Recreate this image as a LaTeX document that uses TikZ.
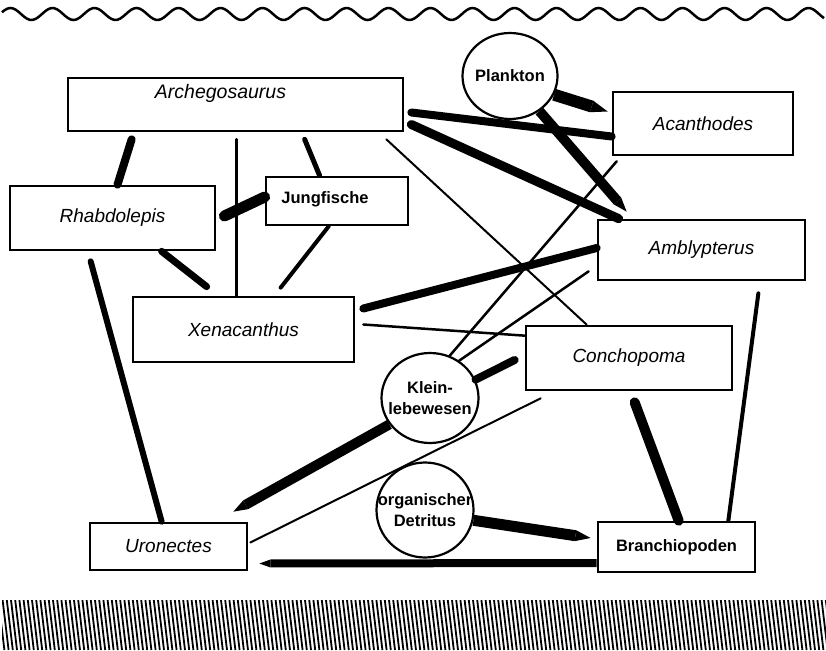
\documentclass[tikz,border=0pt]{standalone}
\usepackage{fontspec}
\setmainfont{Liberation Sans}
\usetikzlibrary{shapes.geometric,arrows.meta,calc}

\begin{document}
\begin{tikzpicture}[
    x=1pt, y=-1pt,
    box/.style={rectangle, draw, line width=2.7pt, fill=white, inner sep=0pt, font=\itshape\fontsize{19}{22}\selectfont},
    boxtext/.style={font=\itshape\fontsize{19.5}{22}\selectfont, inner sep=0pt},
    boldbox/.style={box, font=\bfseries\fontsize{16.5}{22}\selectfont},
    boldtext/.style={font=\bfseries\fontsize{16.5}{22}\selectfont, inner sep=0pt},
    food/.style={ellipse, draw, line width=2.2pt, fill=white, inner sep=0pt},
    foodtext/.style={font=\bfseries\fontsize{16.5}{21}\selectfont, align=center, inner sep=0pt},
    bar/.style={line width=#1, line cap=round},
    tipbar/.style={line width=#1, -{Triangle[length=0pt 1.4, width=0pt 1, line width=0pt]}}
]
    \useasboundingbox (0,0) rectangle (826,650);

    \draw[line width=2.5pt] plot[domain=2:824, samples=300, smooth] (\x, {14 - 6*sin(\x/42*360)});
    \begin{scope}
        \clip (2,600) rectangle (826,650);
        \foreach \x in {-10,-5.8,...,830}
            \draw[line width=1.8pt] (\x,600) -- (\x+6,650);
    \end{scope}

    \node[box, minimum width=335pt, minimum height=53pt, label={[boxtext, xshift=-15pt, yshift=11pt]center:Archegosaurus}] (arch) at (235.5,104.5) {};
    \node[box, minimum width=180pt, minimum height=63pt] (acan) at (703,123.5) {Acanthodes};
    \node[box, minimum width=205pt, minimum height=64pt] (rhab) at (112.5,218) {Rhabdolepis};
    \node[boldbox, minimum width=142pt, minimum height=48pt, label={[boldtext, xshift=-12pt, yshift=2pt]center:Jungfische}] (jung) at (337,201) {};
    \node[box, minimum width=221pt, minimum height=65pt] (xen) at (243.5,329.5) {Xenacanthus};
    \node[box, minimum width=207pt, minimum height=60pt] (ambly) at (701.5,250) {Amblypterus};
    \node[box, minimum width=206pt, minimum height=64pt] (concho) at (629,358) {Conchopoma};
    \node[box, minimum width=157pt, minimum height=47pt] (uron) at (168.5,546.5) {Uronectes};
    \node[boldbox, minimum width=157pt, minimum height=50pt] (branch) at (676.5,547) {Branchiopoden};
    \node[food, minimum width=95pt, minimum height=86pt, label={[foodtext]center:Plankton}] (plank) at (510,76) {};
    \node[food, minimum width=97pt, minimum height=90pt, label={[foodtext]center:{Klein-\\lebewesen}}] (klein) at (430,398) {};
    \node[food, minimum width=97pt, minimum height=95pt, label={[foodtext]center:{organischer\\Detritus}}] (detr) at (425,510) {};

    \draw[bar=8pt] ($(rhab.north)+(5,0)$) -- ($(arch.south west)+(65,7)$);
    \draw[bar=3pt] ($(xen.north west)+(105,0)$) -- ($(arch.south west)+(170,7)$);
    \draw[bar=5pt] ($(jung.north west)+(55,0)$) -- ($(arch.south west)+(238,7)$);
    \draw[bar=11pt] ($(jung.west)+(0,-4)$) -- ($(rhab.east)+(8,-2)$);
    \draw[bar=4pt] ($(jung.south west)+(64,0)$) -- ($(xen.north west)+(149,-8)$);
    \draw[bar=7pt] ($(rhab.south west)+(153,0)$) -- ($(xen.north west)+(75,-9)$);
    \draw[bar=6pt] ($(uron.north west)+(73,0)$) -- ($(rhab.south west)+(82,10)$);
    \draw[bar=8pt] ($(acan.west)+(0,13)$) -- ($(arch.east)+(7,8)$);
    \draw[bar=9pt] ($(ambly.north west)+(22,0)$) -- ($(arch.east)+(7,20)$);
    \draw[tipbar=12pt] (plank.-23) -- ($(acan.west)+(-4,-12)$);
    \draw[tipbar=10pt] (plank.-50) -- ($(ambly.north west)+(30,-7)$);
    \draw[bar=2pt] ($(concho.north west)+(62,0)$) -- ($(arch.south east)+(-18,7)$);
    \draw[bar=2.5pt] ($(acan.south west)+(5,5)$) -- (klein.65);
    \draw[bar=2.5pt] ($(ambly.south west)+(-8,-10)$) -- (klein.52);
    \draw[bar=8pt] ($(ambly.west)+(0,-2)$) -- ($(xen.east)+(8,-21)$);
    \draw[bar=2.5pt] ($(concho.north west)+(0,11)$) -- ($(xen.east)+(8,-5)$);
    \draw[bar=8pt] (klein.22) -- ($(concho.west)+(-10,2)$);
    \draw[tipbar=10pt] (klein.-147) -- ($(uron.north east)+(-15,-10)$);
    \draw[bar=2pt] ($(concho.south west)+(16,7)$) -- ($(uron.east)+(2,-4)$);
    \draw[tipbar=11pt] (detr.-12) -- ($(branch.west)+(-6,-9)$);
    \draw[tipbar=8pt] ($(branch.west)+(0,16)$) -- ($(uron.east)+(11,17)$);
    \draw[bar=10pt] ($(branch.north west)+(82,0)$) -- ($(concho.south west)+(110,11)$);
    \draw[bar=4pt] ($(branch.north east)+(-28,0)$) -- ($(ambly.south east)+(-48,12)$);
\end{tikzpicture}
\end{document}
